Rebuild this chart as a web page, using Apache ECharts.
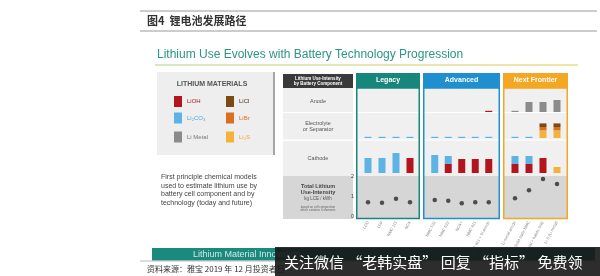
<!DOCTYPE html>
<html><head><meta charset="utf-8">
<script src="https://cdn.jsdelivr.net/npm/echarts@6/dist/echarts.min.js"></script>
<style>html,body{margin:0;padding:0;background:#fff}#c{width:600px;height:276px}</style>
</head><body><div id="c"></div>
<script>
// ---------- DATA (kg LCE / kWh) ----------
const legacyCats   = ['LCO', 'LFP', 'NMC 111', 'NCA'];
const advancedCats = ['NMC 532', 'NMC 622', 'NCA+', 'NMC 811', 'NMC 811 + Si anode'];
const frontierCats = ['Li metal anode', 'Solid state NMC', 'Li metal + halide SSE', 'Li-S (Li metal)'];

const legacyCathodeLi2CO3   = [0.75, 0.75, 1.0, 0];
const legacyCathodeLiOH     = [0, 0, 0, 0.75];
const legacyElectrolyteLi2CO3 = [0.06, 0.06, 0.06, 0.06];
const legacyTotal           = [0.7, 0.68, 0.88, 0.7];

const advancedAnodeLiOH     = [0, 0, 0, 0, 0.06];
const advancedElectrolyteLi2CO3 = [0.06, 0.06, 0.06, 0.06, 0.06];
const advancedCathodeLiOH   = [0, 0.45, 0.7, 0.7, 0.7];
const advancedCathodeLi2CO3 = [0.9, 0.4, 0, 0, 0];
const advancedTotal         = [0.82, 0.78, 0.65, 0.7, 0.7];

const frontierAnodeLiMetal  = [0.06, 0.5, 0.5, 0.6];
const frontierElectrolyteLi2CO3 = [0.06, 0.06, 0, 0];
const frontierElectrolyteLi2S = [0, 0, 0.38, 0.38];
const frontierElectrolyteLiBr = [0, 0, 0.17, 0.17];
const frontierElectrolyteLiCl = [0, 0, 0.18, 0.18];
const frontierCathodeLiOH   = [0.45, 0.45, 0.75, 0];
const frontierCathodeLi2CO3 = [0.4, 0.4, 0, 0];
const frontierCathodeLi2S   = [0, 0, 0, 0.3];
const frontierTotal         = [0.9, 1.3, 1.85, 1.6];

const totalTicks = [0, 1, 2];
const materials = ['LiOH', 'LiCl', 'Li₂CO₃', 'LiBr', 'Li Metal', 'Li₂S'];

// ---------- STYLE ----------
const matColor = {'LiOH':'#b3151d','LiCl':'#7a4914','Li₂CO₃':'#5cb3e4','LiBr':'#d8701f','Li Metal':'#8b8b8b','Li₂S':'#f4b23a'};
const matText  = {'LiOH':'#b3151d','LiCl':'#4a3010','Li₂CO₃':'#4aa6dc','LiBr':'#d8701f','Li Metal':'#777','Li₂S':'#f0a530'};

const panels = [
  {name:'Legacy', cats:legacyCats, color:'#17877c', x0:356, x1:420, gl:361, gw:56,
   rows:{anode:[], electrolyte:[['Li₂CO₃',legacyElectrolyteLi2CO3]], cathode:[['LiOH',legacyCathodeLiOH],['Li₂CO₃',legacyCathodeLi2CO3]]},
   total:legacyTotal},
  {name:'Advanced', cats:advancedCats, color:'#1f8fcf', x0:423, x1:500, gl:428, gw:67.5,
   rows:{anode:[['LiOH',advancedAnodeLiOH]], electrolyte:[['Li₂CO₃',advancedElectrolyteLi2CO3]], cathode:[['LiOH',advancedCathodeLiOH],['Li₂CO₃',advancedCathodeLi2CO3]]},
   total:advancedTotal},
  {name:'Next Frontier', cats:frontierCats, color:'#f5a623', x0:503, x1:568, gl:508, gw:56,
   rows:{anode:[['Li Metal',frontierAnodeLiMetal]], electrolyte:[['Li₂CO₃',frontierElectrolyteLi2CO3],['Li₂S',frontierElectrolyteLi2S],['LiBr',frontierElectrolyteLiBr],['LiCl',frontierElectrolyteLiCl]], cathode:[['LiOH',frontierCathodeLiOH],['Li₂CO₃',frontierCathodeLi2CO3],['Li₂S',frontierCathodeLi2S]]},
   total:frontierTotal}
];
const rowDefs = [
  {key:'anode', top:88, height:24, max:1.2},
  {key:'electrolyte', top:113, height:25, max:1.25},
  {key:'cathode', top:141, height:32, max:1.6},
  {key:'total', top:176, height:40.5, max:2}
];

const grid = [], xAxis = [], yAxis = [], series = [];
panels.forEach((p, pi) => {
  rowDefs.forEach((r, ri) => {
    const gi = grid.length;
    grid.push({left:p.gl, top:r.top, width:p.gw, height:r.height});
    const isTotal = r.key === 'total';
    xAxis.push({type:'category', gridIndex:gi, data:p.cats,
      axisLine:{show:false}, axisTick:{show:false},
      axisLabel:{show:isTotal, rotate:62, fontSize:4, color:'#888', margin:5, interval:0, fontFamily:'Liberation Sans'}});
    yAxis.push({type:'value', gridIndex:gi, min:0, max:r.max,
      interval: isTotal ? totalTicks[1]-totalTicks[0] : undefined,
      splitLine:{show:false}, axisLine:{show:false}, axisTick:{show:false},
      axisLabel:{show:isTotal && pi===0, fontSize:5.5, color:'#444', margin:7, fontFamily:'Liberation Sans'}});
    if (isTotal) {
      series.push({type:'scatter', xAxisIndex:gi, yAxisIndex:gi, data:p.total, symbolSize:4.5,
        itemStyle:{color:'#2a2a2a'}, z:5});
    } else {
      p.rows[r.key].forEach(([m, d]) => {
        series.push({type:'bar', name:m, xAxisIndex:gi, yAxisIndex:gi, stack:'s'+gi, data:d,
          barWidth:7, itemStyle:{color:matColor[m]}, z:4});
      });
    }
  });
});

// ---------- LAYOUT GRAPHICS ----------
const G = [];
const txt = (x,y,t,o) => G.push({type:'text', x, y, style:Object.assign({text:t, fontFamily:'Liberation Sans', fontSize:6, fill:'#444', textVerticalAlign:'middle'}, o||{})});
const rect = (x,y,w,h,fill,extra) => G.push(Object.assign({type:'rect', shape:{x,y,width:w,height:h}, style:{fill}}, extra||{}));
const line = (x1,y1,x2,y2,stroke,lw,extra) => G.push(Object.assign({type:'line', shape:{x1,y1,x2,y2}, style:{stroke, lineWidth:lw}}, extra||{}));

// report header
line(140,11,597,11,'#999',1);
txt(147,20.5,'图4  锂电池发展路径',{fontFamily:'Noto Sans CJK SC', fontWeight:'bold', fontSize:11, fill:'#333'});
line(140,31,597,31,'#999',1);
// title
txt(157,55,'Lithium Use Evolves with Battery Technology Progression',{fontSize:12, fill:'#2c9488'});
G.push({type:'line', shape:{x1:155,y1:65,x2:578,y2:65}, style:{lineWidth:2, stroke:{type:'linear',x:0,y:0,x2:1,y2:0,colorStops:[{offset:0,color:'#d9e8c2'},{offset:1,color:'#f1e4a6'}]}}});

// legend box
rect(157,72,117,83,'#eeeeee');
line(274,72,274,155,'#8a8a8a',1.5);
txt(212,84,'LITHIUM MATERIALS',{fontWeight:'bold', fontSize:7, fill:'#555', textAlign:'center'});
materials.forEach((m,i) => {
  const col = i % 2, row = Math.floor(i/2);
  const sx = col ? 226 : 174, cy = [101.5,118,137][row];
  rect(sx, cy-5.5, 8, 11, matColor[m]);
  txt(sx+13, cy, m, {fontSize:6, fill:matText[m]});
});
// description
['First principle chemical models','used to estimate lithium use by','battery cell component and by','technology (today and future)']
  .forEach((l,i) => txt(161,177+i*8.7,l,{fontSize:7, fill:'#444'}));

// row header column
rect(283,74,70,14,'#3a3a3a');
txt(318,78.5,'Lithium Use-Intensity',{fontSize:4.5, fontWeight:'bold', fill:'#fff', textAlign:'center'});
txt(318,83.5,'by Battery Component',{fontSize:4.5, fontWeight:'bold', fill:'#fff', textAlign:'center'});
rect(283,88,70,24,'#efefef');
txt(318,101,'Anode',{fontSize:5.5, textAlign:'center', fill:'#555'});
rect(283,113,70,26.5,'#efefef');
txt(318,123,'Electrolyte',{fontSize:5.5, textAlign:'center', fill:'#555'});
txt(318,129,'or Separator',{fontSize:5.5, textAlign:'center', fill:'#555'});
rect(283,141,70,35,'#efefef');
txt(318,158,'Cathode',{fontSize:5.5, textAlign:'center', fill:'#555'});
rect(283,176,70,43,'#d6d6d6');
txt(318,186,'Total Lithium',{fontSize:5.5, fontWeight:'bold', textAlign:'center', fill:'#444'});
txt(318,192.5,'Use-Intensity',{fontSize:5.5, fontWeight:'bold', textAlign:'center', fill:'#444'});
txt(318,199,'kg LCE / kWh',{fontSize:4.5, textAlign:'center', fill:'#555'});
txt(318,207,'based on cell composition',{fontSize:3, textAlign:'center', fill:'#666'});
txt(318,210.5,'which contains 6 elements',{fontSize:3, textAlign:'center', fill:'#666'});

// panels
panels.forEach(p => {
  const w = p.x1 - p.x0;
  rect(p.x0,73,w,15,p.color);
  txt(p.x0+w/2,80.5,p.name,{fontSize:7, fontWeight:'bold', fill:'#fff', textAlign:'center'});
  rect(p.x0,88,w,131,'#f0f0f0');
  line(p.x0,112.5,p.x1,112.5,'#fff',1.2);
  line(p.x0,140,p.x1,140,'#fff',1.2);
  rect(p.x0,176,w,43,'#d6d6d6');
  G.push({type:'rect', shape:{x:p.x0+0.75,y:88,width:w-1.5,height:130.5}, style:{fill:null, stroke:p.color, lineWidth:1.5}, z:10});
});

// bottom
rect(152,248,443,12.5,'#1b8a7e');
txt(193,254.5,'Lithium Material Innovation',{fontSize:9, fill:'#cfeae4'});
line(140,261,597,261,'#aaa',0.8);
txt(147,268.5,'资料来源：雅宝 2019 年 12 月投资者日',{fontFamily:'Noto Sans CJK SC', fontSize:8, fill:'#333'});
// overlay banner
G.push({type:'rect', shape:{x:275,y:247,width:325,height:29}, style:{fill:'rgba(22,22,22,0.9)'}, z:100});
G.push({type:'text', x:284, y:262, z:101, style:{text:'关注微信 “老韩实盘” 回复 “指标” 免费领', fontFamily:'Noto Sans CJK SC', fontSize:15, fill:'#fff', textVerticalAlign:'middle'}});

G.forEach(g => { if (g.z === undefined) g.z = 0; });

const chart = echarts.init(document.getElementById('c'), null, {renderer:'canvas'});
chart.setOption({
  animation:false,
  backgroundColor:'#fff',
  grid, xAxis, yAxis, series,
  graphic:{elements:G}
});
</script></body></html>
